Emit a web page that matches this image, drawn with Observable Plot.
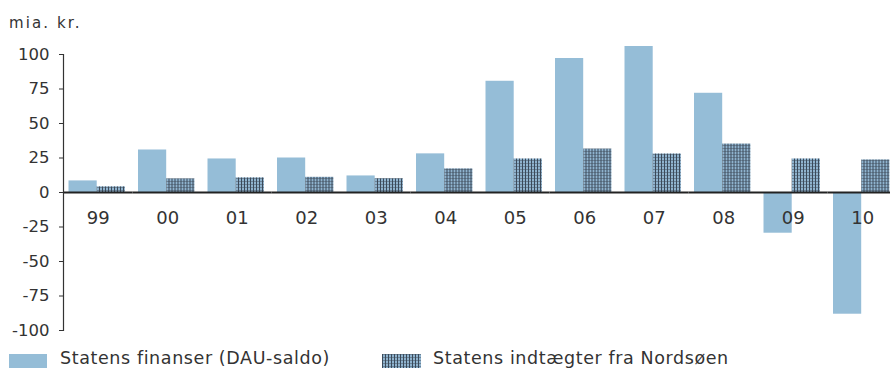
<!DOCTYPE html>
<html><head><meta charset="utf-8">
<script src="https://cdn.jsdelivr.net/npm/d3@7"></script>
<script src="https://cdn.jsdelivr.net/npm/@observablehq/plot@0.6"></script>
<style>
body{margin:0;background:#fff;font-family:"DejaVu Sans";color:#333;width:890px;height:369px;overflow:hidden}
#title{height:34px;box-sizing:border-box;padding:15px 0 0 9px;font-size:15px;line-height:16px;letter-spacing:2.1px;white-space:nowrap}
#chart svg{display:block}
#legend{position:relative;height:29px;font-size:17.5px;letter-spacing:0.6px;line-height:16px;white-space:nowrap}
#legend .sw{position:absolute;top:14px;height:14px}
#legend .lb{position:absolute;top:10px}
</style></head><body>
<div id="title">mia. kr.</div>
<div id="chart"></div>
<div id="legend"></div>
<script>
const years = ["99","00","01","02","03","04","05","06","07","08","09","10"];
const seriesNames = ["Statens finanser (DAU-saldo)", "Statens indtægter fra Nordsøen"];
const dauSaldo = [8.4, 30.8, 24.3, 25.0, 12.0, 28.0, 80.6, 97.1, 105.8, 71.9, -29.5, -88.2];
const nordsoen = [4.1, 9.9, 10.6, 11.0, 10.0, 17.1, 24.3, 31.5, 27.9, 35.1, 24.3, 23.6];
const yTicks = [-100, -75, -50, -25, 0, 25, 50, 75, 100];

const rows = years.flatMap((yr, i) => [
  {year: yr, series: seriesNames[0], value: dauSaldo[i]},
  {year: yr, series: seriesNames[1], value: nordsoen[i]}
]);

const W = 890, mL = 63, mR = -7;
const bandW = (W - mL - mR) / years.length;

const patternDef = (id) => `<pattern id="${id}" patternUnits="userSpaceOnUse" width="3" height="3">
<rect width="3" height="3" fill="#8fb3ce"/><rect width="3" height="1" fill="#6b8397"/><rect width="1" height="3" fill="#3b4a5a"/></pattern>`;

const chart = Plot.plot({
  width: W, height: 306,
  marginTop: 20, marginBottom: 10, marginLeft: mL, marginRight: mR,
  style: {fontFamily: "DejaVu Sans", fontSize: "16.5px", color: "#333", background: "transparent"},
  fx: {domain: years, padding: 0, round: false, axis: null, label: null},
  x: {domain: seriesNames, padding: 0, round: false, insetLeft: 5.5, insetRight: 7.6, axis: null},
  y: {domain: [-100, 100], ticks: yTicks, label: null},
  marks: [
    Plot.barY(rows.filter(d => d.series === seriesNames[0]), {fx: "year", x: "series", y: "value", fill: "#95bdd7"}),
    Plot.barY(rows.filter(d => d.series === seriesNames[1]), {fx: "year", x: "series", y: "value", fill: "url(#nordsoe)"}),
    Plot.ruleY([0], {stroke: "#222", strokeWidth: 2}),
    Plot.ruleX(years, {fx: d => d, y1: 0, y2: 0, insetBottom: -6, dx: -bandW / 2, stroke: "#666", strokeWidth: 1.5}),
    Plot.text(years, {fx: d => d, text: d => d, y: 0, lineAnchor: "top", dy: 19, fontSize: 18, fill: "#333"}),
    Plot.frame({anchor: "left", facetAnchor: "left", stroke: "#333", strokeWidth: 1.2}),
    Plot.axisY({ticks: yTicks, tickSize: 4, tickPadding: 10, tickFormat: d => String(d), facetAnchor: "left", stroke: "#333", letterSpacing: 1.3})
  ]
});

chart.insertAdjacentHTML("afterbegin", `<defs>${patternDef("nordsoe")}</defs>`);
document.getElementById("chart").appendChild(chart);

const legend = document.getElementById("legend");
const items = [
  {name: seriesNames[0], swX: 9, swW: 38, lbX: 60, fill: "#95bdd7"},
  {name: seriesNames[1], swX: 382, swW: 39, lbX: 433, fill: "url(#nordsoeL)"}
];
items.forEach(it => {
  const sw = document.createElement("div");
  sw.className = "sw";
  sw.style.left = it.swX + "px";
  sw.style.width = it.swW + "px";
  sw.innerHTML = `<svg width="${it.swW}" height="14"><defs>${patternDef("nordsoeL")}</defs><rect width="${it.swW}" height="14" fill="${it.fill}"/></svg>`;
  legend.appendChild(sw);
  const lb = document.createElement("div");
  lb.className = "lb";
  lb.style.left = it.lbX + "px";
  lb.textContent = it.name;
  legend.appendChild(lb);
});
</script>
</body></html>
